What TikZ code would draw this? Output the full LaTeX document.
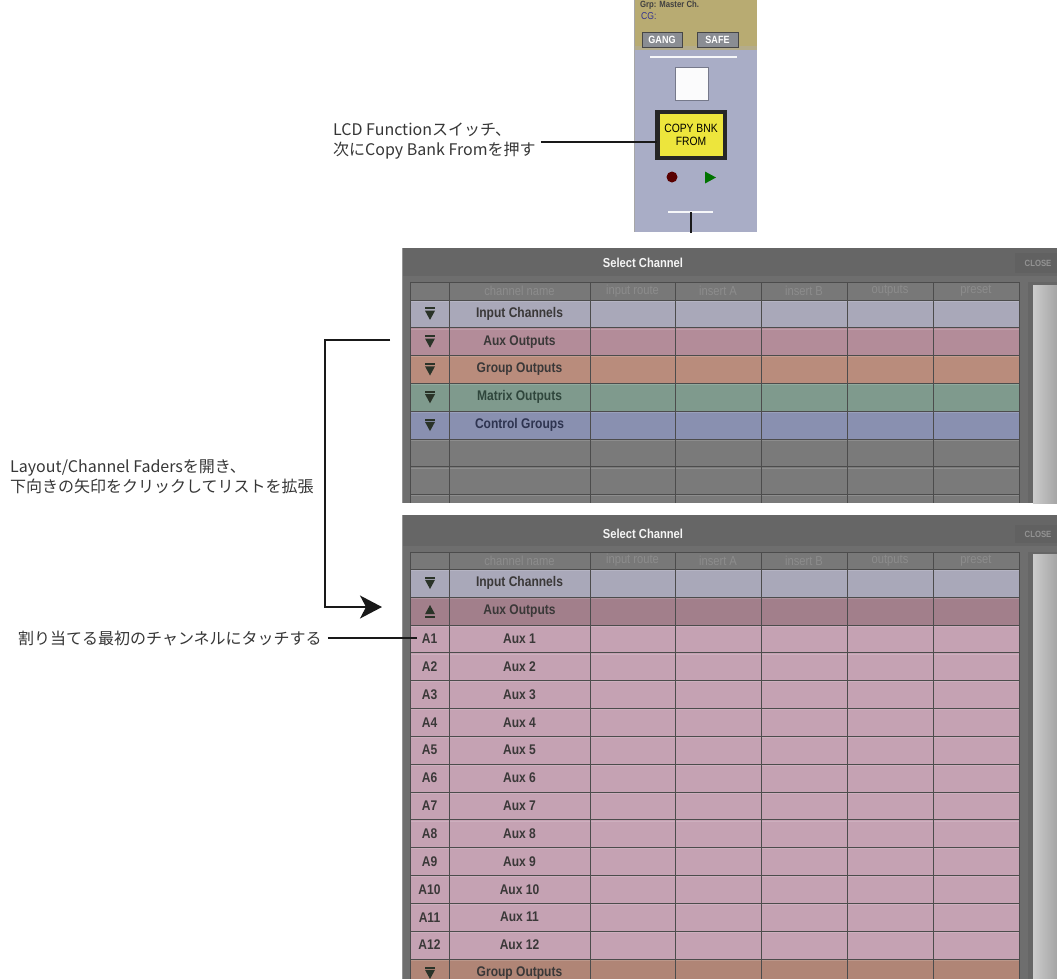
\documentclass[tikz,border=0pt]{standalone}
\usepackage{fontspec}
\setmainfont{Liberation Sans}
\newfontfamily\jpfont{Noto Sans CJK JP}
\newfontfamily\condfont[FakeStretch=0.86]{Liberation Sans}
\usetikzlibrary{arrows.meta}
\definecolor{panelC}{HTML}{6E6E6E}
\definecolor{titleC}{HTML}{666666}
\definecolor{gridC}{HTML}{4C4C4C}
\definecolor{hdrC}{HTML}{787878}
\definecolor{hdrT}{HTML}{8C8C8C}
\definecolor{inputC}{HTML}{A9A8B9}
\definecolor{auxC}{HTML}{B38C99}
\definecolor{auxHC}{HTML}{A27F8B}
\definecolor{auxRC}{HTML}{C5A2B3}
\definecolor{groupC}{HTML}{B98C7C}
\definecolor{matrixC}{HTML}{7F9A8D}
\definecolor{ctrlC}{HTML}{8990B0}
\definecolor{emptyC}{HTML}{7A7A7A}
\definecolor{txtC}{HTML}{3A3838}
\definecolor{matrixT}{HTML}{2F463C}
\definecolor{ctrlT}{HTML}{2E3450}
\definecolor{triC}{HTML}{2A3328}
\definecolor{stripC}{HTML}{A9ADC6}
\definecolor{oliveC}{HTML}{B8AB72}
\definecolor{btnC}{HTML}{8A8D93}
\definecolor{yelC}{HTML}{EDE53C}
\definecolor{jpT}{HTML}{363636}
\newcommand\dtri[2]{%
  \fill[triC] (#1-5,#2-6.5) rectangle (#1+5,#2-4.5);
  \fill[triC] (#1-5,#2-3.2) -- (#1+5,#2-3.2) -- (#1,#2+6) -- cycle;}
\newcommand\utri[2]{%
  \fill[triC] (#1-5,#2+6.5) rectangle (#1+5,#2+4.5);
  \fill[triC] (#1-5,#2+3.2) -- (#1+5,#2+3.2) -- (#1,#2-6) -- cycle;}
\begin{document}
\begin{tikzpicture}[x=1pt,y=-1pt,
  jptxt/.style={font=\jpfont\fontsize{16}{19.5}\selectfont, text=jpT, align=left, inner sep=0pt},
  celltxt/.style={font=\condfont\bfseries\fontsize{14}{16}\selectfont, text=txtC, inner sep=0pt},
  hdrtxt/.style={font=\condfont\fontsize{13}{15}\selectfont, text=hdrT, inner sep=0pt},
  ttltxt/.style={font=\condfont\bfseries\fontsize{13}{15}\selectfont, text=white!92!gray, inner sep=0pt},
  lead/.style={draw=black!90, line width=1.6pt},
  grid/.style={draw=gridC, line width=0.8pt}]
\useasboundingbox (0,0) rectangle (1057,978);
\clip (0,0) rectangle (1057,978);

% ---------- channel strip ----------
\fill[stripC] (634,0) rectangle (757,232);
\fill[oliveC] (634,0) rectangle (757,50);
\fill[oliveC!70!stripC] (634,46) rectangle (757,50);
\draw[gray!70, line width=0.8pt] (634.4,0) -- (634.4,232);
\node[font=\condfont\bfseries\fontsize{9}{10}\selectfont, text=black!75, anchor=north west, inner sep=0pt] (grp) at (640,1) {Grp: Master Ch.};
\node[font=\condfont\fontsize{10}{12}\selectfont, text=blue!45!black!80, anchor=west, inner sep=0pt] (cg) at (641,16) {CG:};
\node[draw=gray!55!black, fill=btnC, minimum width=40pt, minimum height=15pt, inner sep=0pt,
      font=\condfont\bfseries\fontsize{10.5}{12}\selectfont, text=white] (gang) at (662,39.5) {GANG};
\node[draw=gray!55!black, fill=btnC, minimum width=41pt, minimum height=15pt, inner sep=0pt,
      font=\condfont\bfseries\fontsize{10.5}{12}\selectfont, text=white] (safe) at (717.5,39.5) {SAFE};
\draw[white!90!stripC, line width=1.5pt] (650,57) -- (737,57);
\node[fill=white!95!stripC, draw=stripC!70!black, line width=0.4pt, minimum width=33pt, minimum height=33pt, inner sep=0pt] (lcd) at (691.5,83.5) {};
\node[fill=black!85, minimum width=72pt, minimum height=50pt, inner sep=0pt] (btnframe) at (691,135) {};
\node[fill=yelC, minimum width=63pt, minimum height=42pt, inner sep=0pt, align=center,
      font=\condfont\fontsize{12}{13.5}\selectfont, text=black] (btn) at (691,135) {COPY BNK\\FROM};
\fill[red!35!black] (672,177) circle (5.5);
\fill[green!45!black] (705,171.5) -- (716,177.5) -- (705,183.5) -- cycle;
\draw[white!90!stripC, line width=1.5pt] (668,212) -- (713,212);
\coordinate (vtop) at (691,212);
\coordinate (vbot) at (691,233);
\draw[lead, line width=1.4pt] (vtop) -- (vbot);

% ---------- panel 1 ----------
\fill[panelC] (402,248) rectangle (1060,503);
\fill[titleC] (402,248) rectangle (1060,276);
\draw[gray!85, line width=1pt] (402.5,248) -- (402.5,503);
\node[ttltxt] (t1) at (643,263) {Select Channel};
\node[fill=black!62, minimum width=46pt, minimum height=20pt, inner sep=0pt,
      font=\condfont\bfseries\fontsize{9}{10}\selectfont, text=gray!85] (close1) at (1038,263) {CLOSE};
\fill[black!60] (1028,282) rectangle (1060,503);
\shade[left color=gray!40, right color=gray!75] (1033,285) rectangle (1060,503);
% rows
\fill[hdrC] (410,282) rectangle (1019,300);
\fill[inputC] (410,300) rectangle (1019,327.8);
\fill[auxC] (410,327.8) rectangle (1019,355.6);
\fill[groupC] (410,355.6) rectangle (1019,383.4);
\fill[matrixC] (410,383.4) rectangle (1019,411.2);
\fill[ctrlC] (410,411.2) rectangle (1019,439);
\fill[emptyC] (410,439) rectangle (1019,503);
\foreach \yy in {300,327.8,355.6,383.4,411.2,439,466.8,494.6}
  {\draw[grid] (410,\yy) -- (1019,\yy);
   \draw[white, opacity=0.15, line width=0.8pt] (410,\yy+1.2) -- (1019,\yy+1.2);}
\draw[grid] (410,282) -- (1019,282);
\foreach \xx in {410,449,590,675,761,847,933,1019}
  \draw[grid] (\xx,282) -- (\xx,503);
\node[hdrtxt] (h1a) at (519.5,291) {channel name};
\node[hdrtxt] (h1b) at (632.5,291) {input route};
\node[hdrtxt] (h1c) at (718,291) {insert A};
\node[hdrtxt] (h1d) at (804,291) {insert B};
\node[hdrtxt] (h1e) at (890,291) {outputs};
\node[hdrtxt] (h1f) at (976,291) {preset};
\dtri{430}{313.9}
\dtri{430}{341.7}
\dtri{430}{369.5}
\dtri{430}{397.3}
\dtri{430}{425.1}
\node[celltxt] (p1r1) at (519.5,313.9) {Input Channels};
\node[celltxt] (p1r2) at (519.5,341.7) {Aux Outputs};
\node[celltxt] (p1r3) at (519.5,369.5) {Group Outputs};
\node[celltxt, text=matrixT] (p1r4) at (519.5,397.3) {Matrix Outputs};
\node[celltxt, text=ctrlT] (p1r5) at (519.5,425.1) {Control Groups};

% ---------- panel 2 ----------
\fill[panelC] (402,515) rectangle (1060,990);
\fill[titleC] (402,515) rectangle (1060,546);
\draw[gray!85, line width=1pt] (402.5,515) -- (402.5,990);
\node[ttltxt] (t2) at (643,534) {Select Channel};
\node[fill=black!62, minimum width=46pt, minimum height=18pt, inner sep=0pt,
      font=\condfont\bfseries\fontsize{9}{10}\selectfont, text=gray!85] (close2) at (1038,534) {CLOSE};
\fill[black!60] (1028,552) rectangle (1060,990);
\shade[left color=gray!40, right color=gray!75] (1033,554) rectangle (1060,990);
\fill[hdrC] (410,552) rectangle (1019,569);
\fill[inputC] (410,569) rectangle (1019,597);
\fill[auxHC] (410,597) rectangle (1019,625);
\fill[auxRC] (410,625) rectangle (1019,959);
\fill[groupC!95!black] (410,959) rectangle (1019,990);
\draw[grid] (410,552) -- (1019,552);
\foreach \yy in {569,597,625,652.83,680.67,708.5,736.33,764.17,792,819.83,847.67,875.5,903.33,931.17,959}
  {\draw[grid] (410,\yy) -- (1019,\yy);
   \draw[white, opacity=0.15, line width=0.8pt] (410,\yy+1.2) -- (1019,\yy+1.2);}
\foreach \xx in {410,449,590,675,761,847,933,1019}
  \draw[grid] (\xx,552) -- (\xx,990);
\node[hdrtxt] (h2a) at (519.5,560.5) {channel name};
\node[hdrtxt] (h2b) at (632.5,560.5) {input route};
\node[hdrtxt] (h2c) at (718,560.5) {insert A};
\node[hdrtxt] (h2d) at (804,560.5) {insert B};
\node[hdrtxt] (h2e) at (890,560.5) {outputs};
\node[hdrtxt] (h2f) at (976,560.5) {preset};
\dtri{430}{583}
\utri{430}{611}
\node[celltxt] (p2in) at (519.5,583) {Input Channels};
\node[celltxt] (p2aux) at (519.5,611) {Aux Outputs};
\foreach \i in {1,...,12}{
  \pgfmathsetmacro\yc{625+(\i-1)*27.83+13.9}
  \node[celltxt] (a\i) at (429.5,\yc) {A\i};
  \node[celltxt] (aux\i) at (519.5,\yc) {Aux \i};
}
\dtri{430}{973}
\node[celltxt] (p2grp) at (519.5,973) {Group Outputs};

% ---------- annotations ----------
\node[jptxt, anchor=west] (lcdtxt) at (333,141) {LCD Functionスイッチ、\\次にCopy Bank Fromを押す};
\coordinate (btnpt) at (657,142);
\draw[lead] ([xshift=5pt]lcdtxt.east |- btnpt) -- (btnpt);

\node[jptxt, anchor=west] (laytxt) at (10,477) {Layout/Channel Fadersを開き、\\下向きの矢印をクリックしてリストを拡張};
\coordinate (bs) at (390,340);
\coordinate (bt) at (382,607);
\draw[lead, -{Stealth[length=22pt, width=23pt, inset=6pt]}] (bs) -- ++(-65,0) |- (bt);

\node[jptxt, anchor=west] (touchtxt) at (18,638) {割り当てる最初のチャンネルにタッチする};
\coordinate (a1pt) at (417,638);
\draw[lead] ([xshift=6pt]touchtxt.east |- a1pt) -- (a1pt);
\end{tikzpicture}
\end{document}
